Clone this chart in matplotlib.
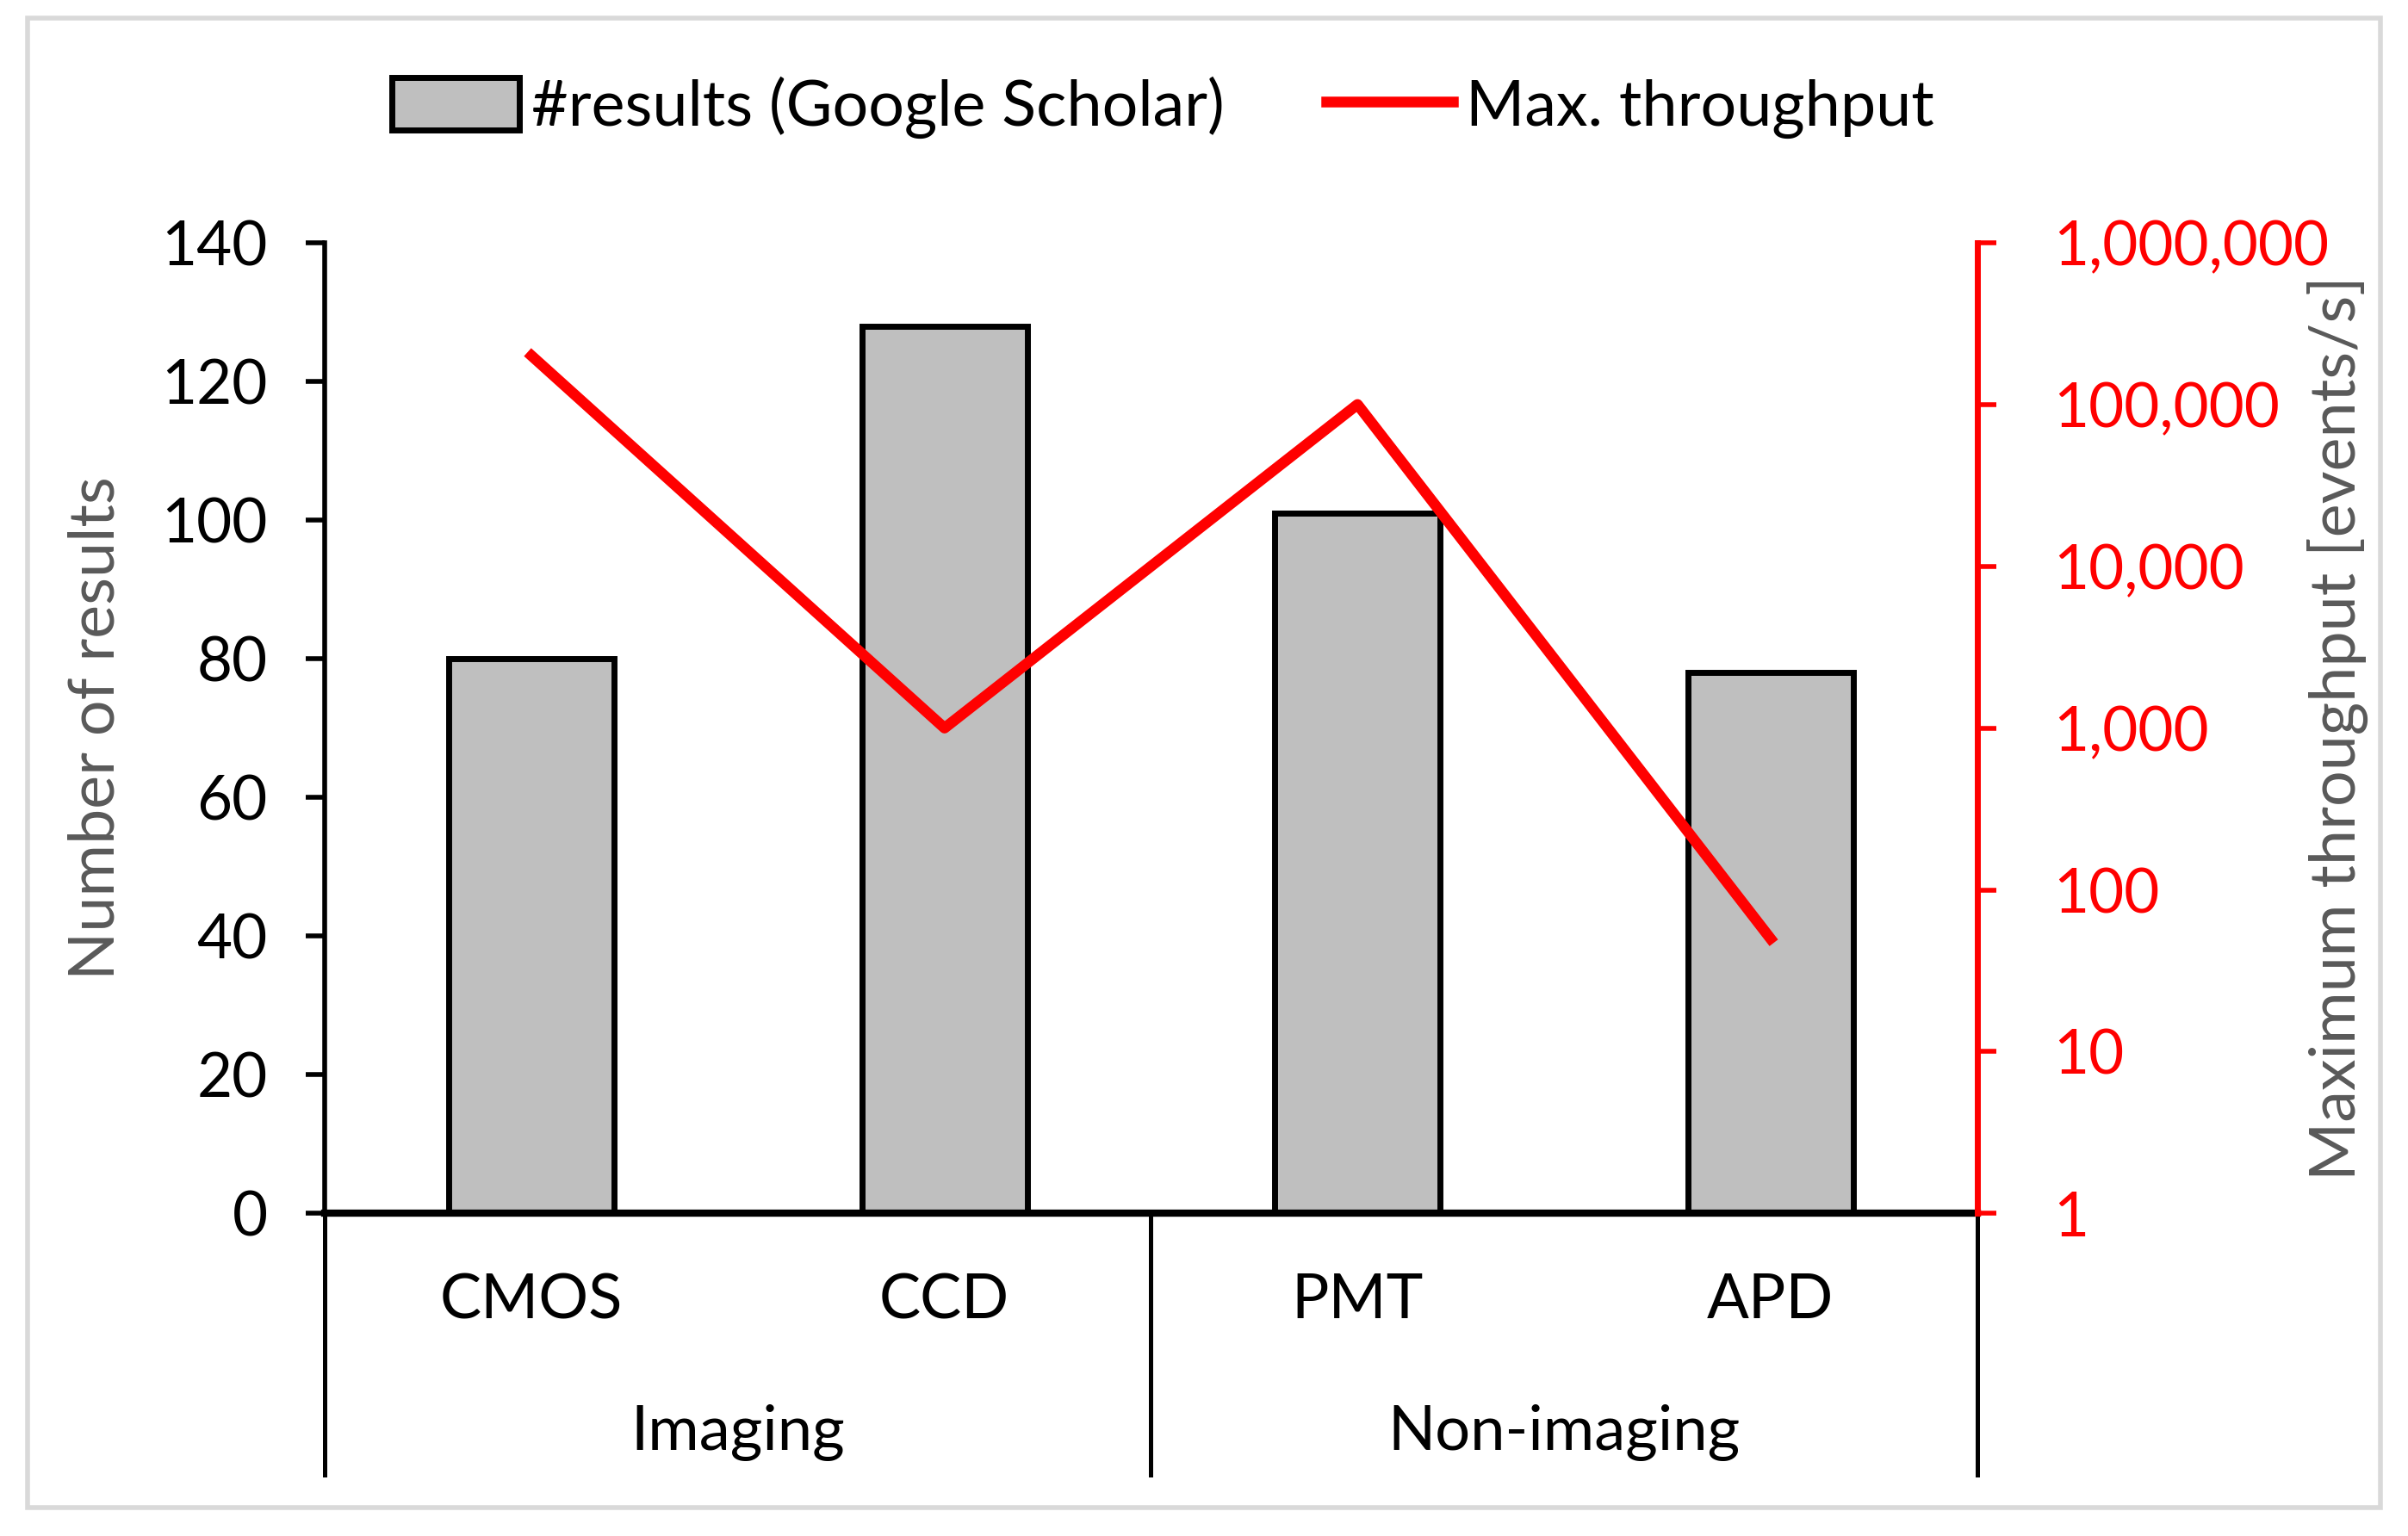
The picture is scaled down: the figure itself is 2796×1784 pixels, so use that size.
import matplotlib
matplotlib.use('Agg')
import matplotlib.pyplot as plt
import matplotlib.ticker as mticker
from matplotlib.patches import Rectangle

plt.rcParams['font.family'] = ['Lato', 'DejaVu Sans']

# data
sensors = ['CMOS', 'CCD', 'PMT', 'APD']
groups = ['Imaging', 'Non-imaging']
n_results = [80, 128, 101, 78]
max_throughput = [200000, 1000, 100000, 50]

fig = plt.figure(figsize=(13.98, 8.92), dpi=200)
ax = fig.add_axes([0.135, 0.210, 0.686, 0.632])

x = list(range(len(sensors)))
bars = ax.bar(x, n_results, width=0.4, color='#BFBFBF', edgecolor='black',
              linewidth=2.5, label='#results (Google Scholar)', zorder=2)
ax.set_xlim(-0.5, 3.5)
ax.set_ylim(0, 140)
ax.set_yticks(range(0, 141, 20))
ax.set_xticks([])
ax.tick_params(axis='y', labelsize=25.5, length=8, width=2, pad=16, direction='out')
ax.set_ylabel('Number of results', fontsize=26.5, color='#595959')
ax.yaxis.set_label_coords(-0.121, 0.5)
ax.spines['top'].set_visible(False)
ax.spines['right'].set_visible(False)
ax.spines['left'].set_linewidth(2)
ax.spines['bottom'].set_linewidth(3)

ax2 = ax.twinx()
line, = ax2.plot(x, max_throughput, color='red', linewidth=4.5,
                 label='Max. throughput', zorder=3)
ax2.set_yscale('log')
ax2.set_ylim(1, 1e6)
ax2.yaxis.set_major_locator(mticker.LogLocator(base=10, numticks=10))
ax2.yaxis.set_minor_locator(mticker.NullLocator())
ax2.yaxis.set_major_formatter(mticker.FuncFormatter(lambda v, p: f'{int(round(v)):,}'))
ax2.tick_params(axis='y', labelsize=25.5, length=8, width=2, pad=24,
                colors='red', direction='out')
ax2.set_ylabel('Maximum throughput [events/s]', fontsize=26.5, color='#595959')
ax2.yaxis.set_label_coords(1.2, 0.5)
for s in ['top', 'left', 'bottom']:
    ax2.spines[s].set_visible(False)
ax2.spines['right'].set_color('red')
ax2.spines['right'].set_linewidth(2.5)

# two-level category axis
tr = ax.get_xaxis_transform()
for xs in [-0.5, 1.5, 3.5]:
    ax.plot([xs, xs], [0, -0.269], transform=tr, color='black', lw=1.8,
            clip_on=False)
for i, name in enumerate(sensors):
    ax.text(i, -0.09, name, transform=tr, ha='center', va='center', fontsize=26)
for j, g in enumerate(groups):
    ax.text(2 * j + 0.5, -0.226, g, transform=tr, ha='center', va='center',
            fontsize=26)

fig.legend(handles=[bars, line], loc='center', bbox_to_anchor=(0.483, 0.93),
           ncol=2, frameon=False, fontsize=26.5, handlelength=2.0,
           handleheight=0.9, handletextpad=0.2, columnspacing=1.6)

# outer border
fig.patches.append(Rectangle((0.0115, 0.0185), 0.977, 0.9695,
                             transform=fig.transFigure, fill=False,
                             edgecolor='#D9D9D9', linewidth=2))

fig.savefig('out.png', dpi=200)
